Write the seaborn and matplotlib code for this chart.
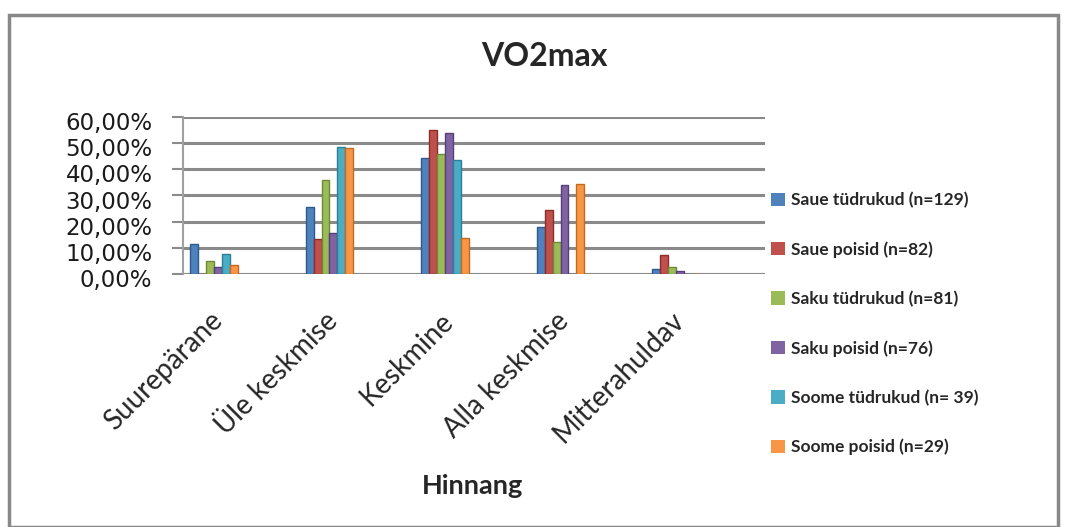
import matplotlib
matplotlib.use("Agg")
import matplotlib.pyplot as plt
from matplotlib.patches import Rectangle
from matplotlib.ticker import FuncFormatter
from matplotlib.transforms import ScaledTranslation
import seaborn as sns
import pandas as pd

# Rating categories (x axis)
categories = ["Suurepärane", "Üle keskmise", "Keskmine", "Alla keskmise", "Mitterahuldav"]

# Groups (legend)
groups = [
    "Saue tüdrukud (n=129)",
    "Saue poisid (n=82)",
    "Saku tüdrukud (n=81)",
    "Saku poisid (n=76)",
    "Soome tüdrukud (n= 39)",
    "Soome poisid (n=29)",
]

# Share of each group per rating, in percent
saue_tudrukud = [11.6, 25.6, 44.2, 17.8, 2.0]
saue_poisid = [0.0, 13.4, 54.9, 24.4, 7.3]
saku_tudrukud = [4.9, 35.8, 45.7, 12.3, 2.5]
saku_poisid = [2.6, 15.8, 53.9, 34.2, 1.3]
soome_tudrukud = [7.7, 48.7, 43.6, 0.0, 0.0]
soome_poisid = [3.4, 48.3, 13.8, 34.5, 0.0]

y_ticks = [0, 10, 20, 30, 40, 50, 60]

series = [saue_tudrukud, saue_poisid, saku_tudrukud, saku_poisid, soome_tudrukud, soome_poisid]
rows = []
for g, vals in zip(groups, series):
    for c, v in zip(categories, vals):
        rows.append({"Hinnang": c, "Grupp": g, "Osakaal": v})
df = pd.DataFrame(rows)

palette = ["#4F81BD", "#C0504D", "#9BBB59", "#8064A2", "#4BACC6", "#F79646"]
edges = ["#2C5A8C", "#8C2D2A", "#6E8A35", "#573F7A", "#2B7F96", "#C46A1E"]

sns.set_theme(style="white")
plt.rcParams["font.family"] = ["DejaVu Sans"]

W, H = 1066, 527
fig = plt.figure(figsize=(W / 100, H / 100), dpi=100)

# plot area in pixel coordinates
left_px, right_px, top_px, bottom_px = 183, 765, 117, 274
ax = fig.add_axes([left_px / W, 1 - bottom_px / H,
                   (right_px - left_px) / W, (bottom_px - top_px) / H])

sns.barplot(data=df, x="Hinnang", y="Osakaal", hue="Grupp",
            order=categories, hue_order=groups, palette=palette,
            width=0.41, ax=ax, legend=False, saturation=1)

# darker outline per group
for container, ec in zip(ax.containers, edges):
    for bar in container:
        bar.set_edgecolor(ec)
        bar.set_linewidth(1.0)

ax.set_xlim(-0.268, 4.77)
ax.set_ylim(0, 60)
ax.set_yticks(y_ticks)
ax.yaxis.set_major_formatter(FuncFormatter(lambda v, p: f"{v:.2f}%".replace(".", ",")))
ax.grid(axis="y", color="#8A8A8A", linewidth=2.2)
ax.set_axisbelow(True)
for s in ["top", "right", "bottom"]:
    ax.spines[s].set_visible(False)
ax.spines["left"].set_color("#A0A0A0")
ax.spines["left"].set_linewidth(1.5)
ax.tick_params(axis="y", which="major", length=8, width=1.5, color="#8A8A8A",
               left=True, pad=14, labelsize=16.5, labelcolor="#1A1A1A")
ax.tick_params(axis="x", length=0, pad=24)
ax.set_xticks(range(len(categories)))
ax.set_xticklabels(categories, rotation=45, ha="right", rotation_mode="anchor",
                   fontsize=20, family="Lato")
ax.set_xlabel("")
ax.set_ylabel("")

# category labels nudged a little to the left
xshift = ScaledTranslation(-5 / 100, 0, fig.dpi_scale_trans)
for lbl in ax.get_xticklabels():
    lbl.set_transform(lbl.get_transform() + xshift)

# value labels sit slightly below their gridlines
shift = ScaledTranslation(0, -4 / 100, fig.dpi_scale_trans)
for lbl in ax.get_yticklabels():
    lbl.set_transform(lbl.get_transform() + shift)

# bottom floor line
ax.axhline(0, color="#8A8A8A", linewidth=2.2, zorder=0.5)

fig.text(544 / W, 1 - 57 / H, "VO2max", ha="center", va="center",
         fontsize=23, fontweight="bold", family="Lato")
fig.text(472 / W, 1 - 486 / H, "Hinnang", ha="center", va="center",
         fontsize=19.5, fontweight="bold", family="Lato")

# legend
handles = [Rectangle((0, 0), 1, 1, facecolor=c, edgecolor="none") for c in palette]
fig.legend(handles, groups, loc="upper left",
           bbox_to_anchor=(764 / W, 1 - 185 / H), frameon=False,
           prop={"family": "Lato", "size": 12.5, "weight": "bold"},
           handlelength=0.8, handleheight=0.8, handletextpad=0.35,
           labelspacing=1.9, borderaxespad=0)

# outer chart border
fig.add_artist(Rectangle((9 / W, 0), (1058 - 9) / W, 1 - 15 / H,
                         transform=fig.transFigure, fill=False,
                         edgecolor="#888888", linewidth=2.5))

fig.savefig("out.png", dpi=100)
